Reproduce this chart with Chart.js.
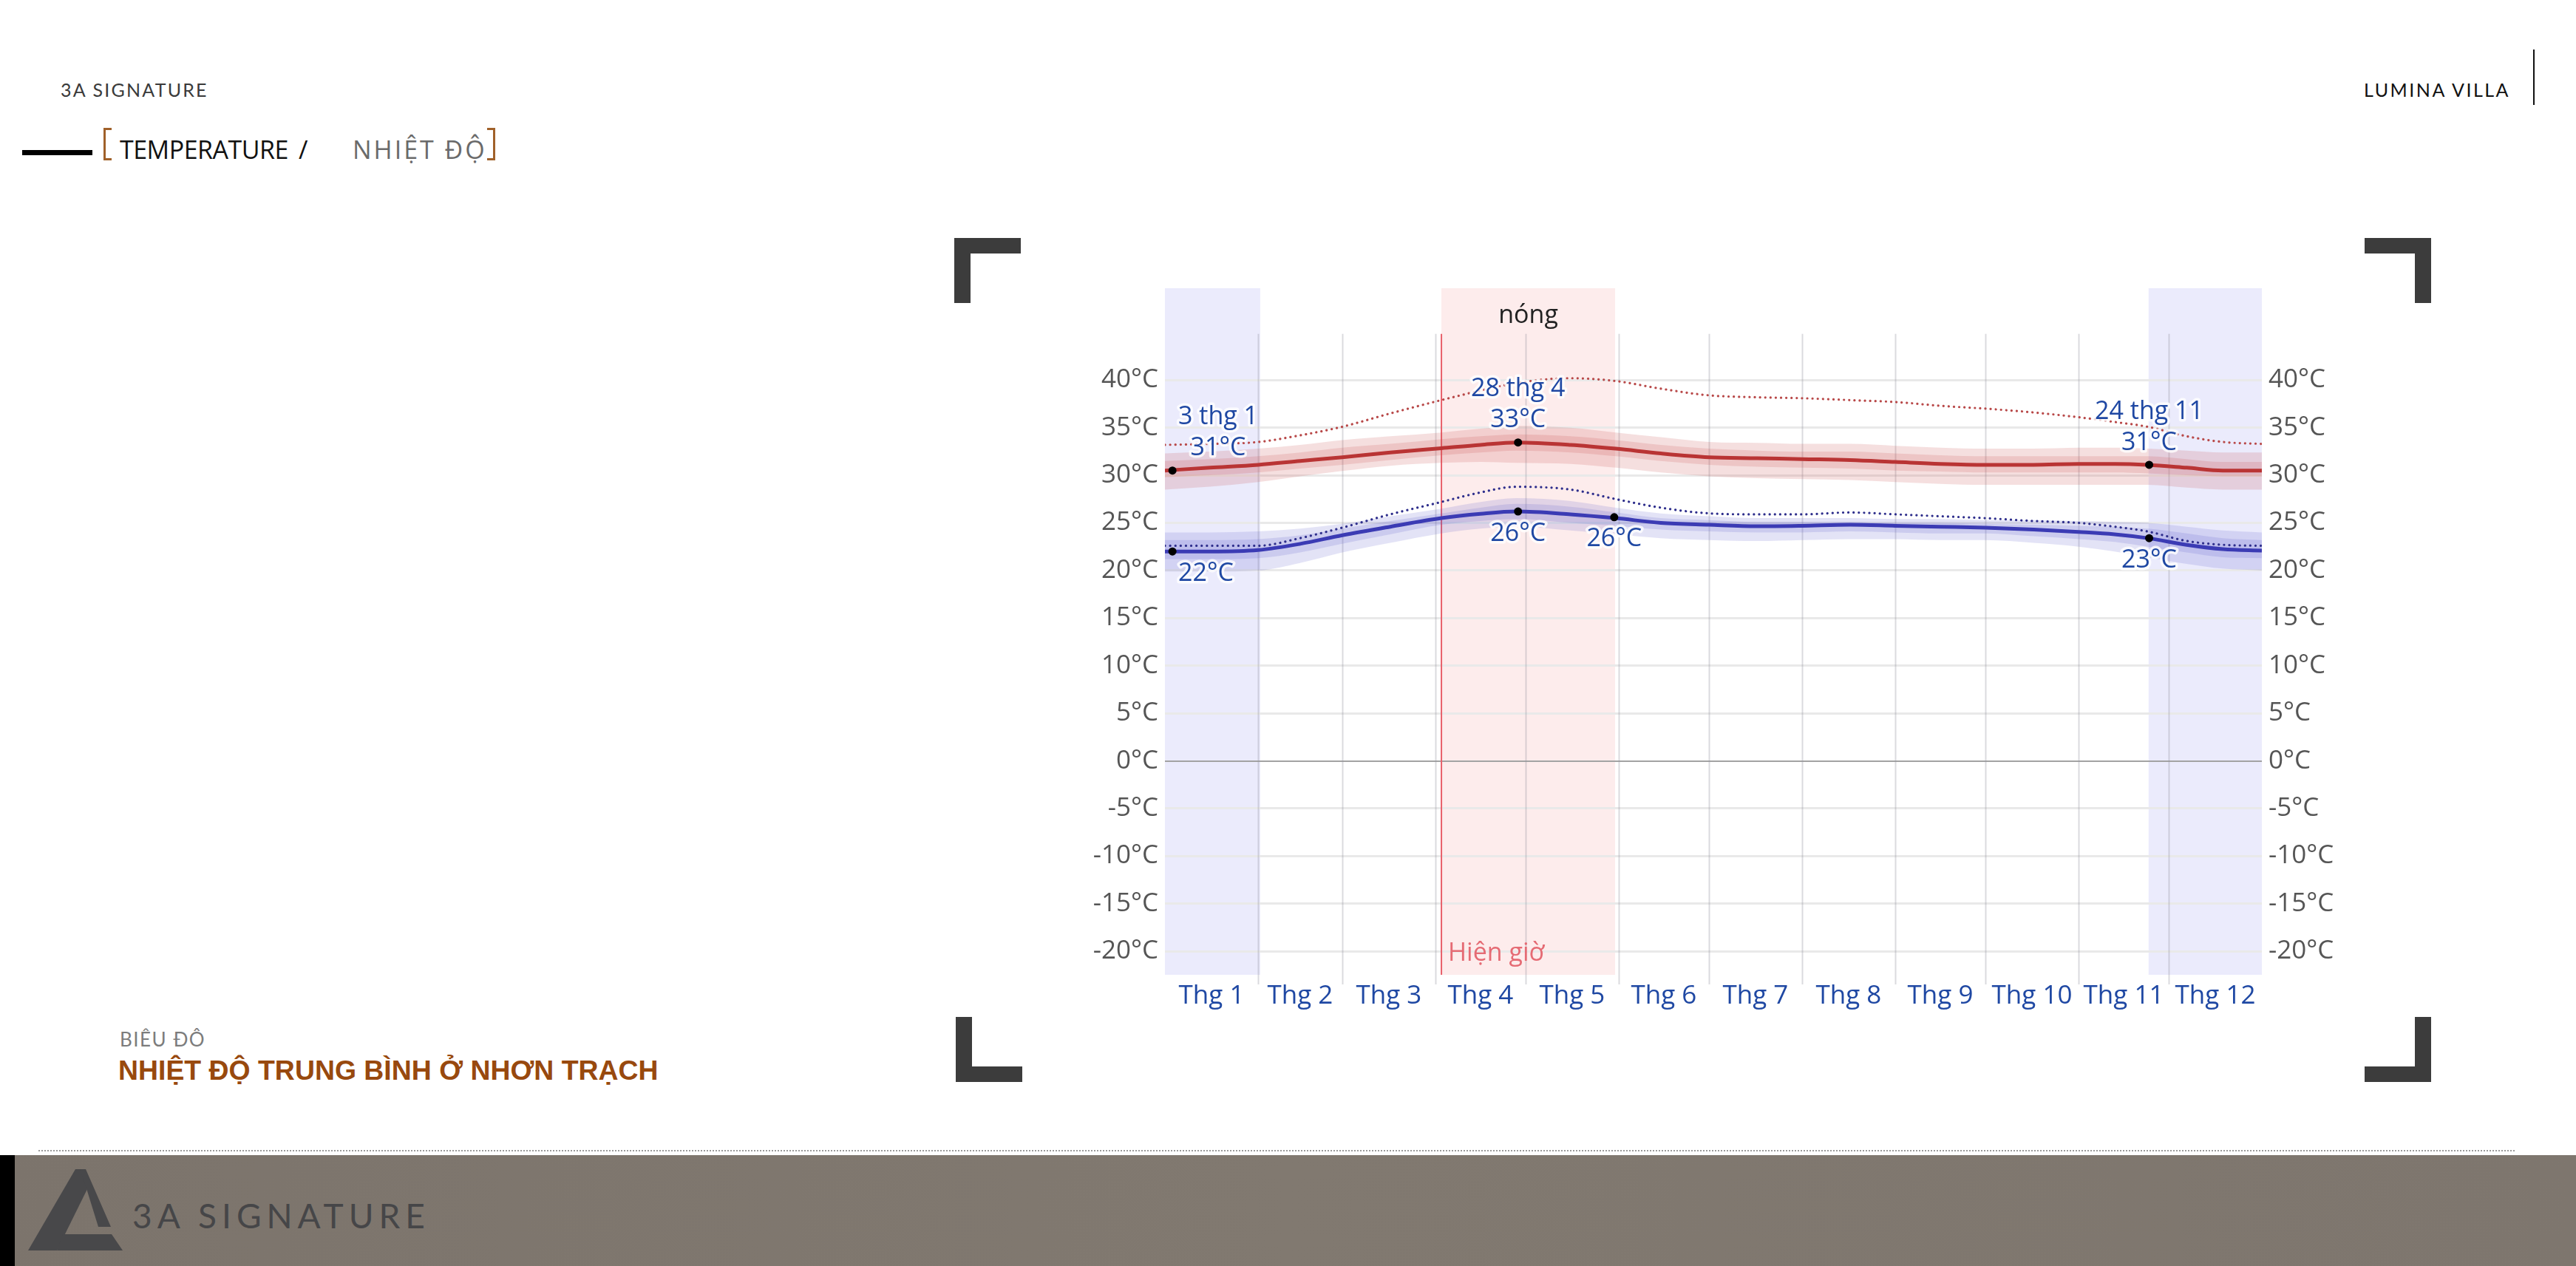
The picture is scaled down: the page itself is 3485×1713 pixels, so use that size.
<!DOCTYPE html>
<html lang="vi">
<head>
<meta charset="utf-8">
<title>Nhiệt độ trung bình ở Nhơn Trạch</title>
<script src="https://cdn.jsdelivr.net/npm/chart.js@4.4.1/dist/chart.umd.min.js"></script>
<style>
html, body { margin: 0; padding: 0; background: #fff; }
body { position: relative; width: 3485px; height: 1713px; overflow: hidden; }
.t { position: absolute; white-space: nowrap; line-height: 1; }
.box { position: absolute; }
#brand { left: 82px; top: 106px; font: 400 25px Lato, sans-serif; letter-spacing: 2.2px; color: #3a3a3a; }
#dash { left: 30px; top: 203px; width: 95px; height: 7px; background: #000; }
.br { top: 173px; width: 8px; height: 38px; border: 3px solid #a0612a; }
#brL { left: 140px; border-right: none; }
#brR { left: 659px; border-left: none; }
#tEn { left: 162px; top: 179px; font: 400 34px "Open Sans", sans-serif; color: #111; letter-spacing: -0.5px; }
#slash { left: 404px; top: 179px; font: 400 34px "Open Sans", sans-serif; color: #111; }
#tVi { left: 477px; top: 179px; font: 400 34px "Open Sans", sans-serif; color: #6a6a6a; letter-spacing: 3px; }
#lumina { left: 3198px; top: 106px; font: 400 25px Lato, sans-serif; letter-spacing: 2.5px; color: #111; }
#vbar { left: 3427px; top: 67px; width: 2px; height: 75px; background: #111; }
#sub { left: 162px; top: 1390px; font: 400 26px Lato, sans-serif; color: #7c7c7c; letter-spacing: 1.5px; }
#title { left: 160px; top: 1427px; font: 700 37.4px "Liberation Sans", Arial, sans-serif; color: #98490e; }
.cn { width: 68px; height: 67px; border: 0 solid #3c3c3c; }
#cTL { left: 1291px; top: 322px; border-left-width: 22px; border-top-width: 21px; }
#cTR { left: 3199px; top: 322px; border-right-width: 22px; border-top-width: 21px; }
#cBL { left: 1293px; top: 1376px; border-left-width: 22px; border-bottom-width: 21px; }
#cBR { left: 3199px; top: 1376px; border-right-width: 22px; border-bottom-width: 21px; }
#dots { left: 52px; top: 1556px; width: 3350px; height: 0; border-top: 2px dotted #9a9a9a; }
#foot { left: 0; top: 1563px; width: 3485px; height: 150px; background: linear-gradient(90deg, #7c746c 0%, #817970 50%, #7e766e 100%); }
#footBar { left: 0; top: 1563px; width: 20px; height: 150px; background: #000; }
#logo { left: 30px; top: 1575px; }
#footText { left: 179px; top: 1617px; font: 400 46px Lato, sans-serif; letter-spacing: 7px; color: #464648; }
#chartWrap { left: 1380px; top: 360px; width: 1820px; height: 1020px; }
</style>
</head>
<body>
<div class="t" id="brand">3A SIGNATURE</div>
<div class="box" id="dash"></div>
<div class="box br" id="brL"></div>
<div class="t" id="tEn">TEMPERATURE</div>
<div class="t" id="slash">/</div>
<div class="t" id="tVi">NHIỆT ĐỘ</div>
<div class="box br" id="brR"></div>
<div class="t" id="lumina">LUMINA VILLA</div>
<div class="box" id="vbar"></div>

<div class="box cn" id="cTL"></div>
<div class="box cn" id="cTR"></div>
<div class="box cn" id="cBL"></div>
<div class="box cn" id="cBR"></div>

<div class="box" id="chartWrap"><canvas id="tempChart" width="1820" height="1020"></canvas></div>

<div class="t" id="sub">BIÊU ĐÔ</div>
<div class="t" id="title">NHIỆT ĐỘ TRUNG BÌNH Ở NHƠN TRẠCH</div>

<div class="box" id="dots"></div>
<div class="box" id="foot"></div>
<div class="box" id="footBar"></div>
<svg class="box" id="logo" width="140" height="125" viewBox="0 0 140 125">
  <polygon points="72,7 82,7 90,30 47,117 8,117" fill="#48484a"/>
  <polygon points="78,7 86,7 120,85 103,85 86,30" fill="#48484a"/>
  <polygon points="55,95 121,95 136,117 47,117" fill="#48484a"/>
</svg>
<div class="t" id="footText">3A SIGNATURE</div>

<script>
// day of year (0 = 1 Jan) for every sampled point
const days = [0, 15, 31, 45, 59, 75, 92, 105, 117, 135, 150, 165, 181, 197, 212, 228, 243, 258, 273, 289, 304, 316, 327, 340, 352, 365];

// average daily high / low (°C)
const avgHigh = [30.5, 30.8, 31.1, 31.5, 31.9, 32.4, 32.85, 33.2, 33.45, 33.2, 32.8, 32.3, 31.9, 31.8, 31.7, 31.6, 31.4, 31.2, 31.1, 31.1, 31.2, 31.2, 31.1, 30.8, 30.5, 30.5];
const avgLow  = [22.0, 22.0, 22.15, 22.8, 23.7, 24.6, 25.5, 25.95, 26.2, 25.9, 25.5, 25.0, 24.8, 24.65, 24.7, 24.8, 24.7, 24.6, 24.5, 24.3, 24.05, 23.8, 23.4, 22.7, 22.25, 22.1];

// percentile bands of the high
const highP90 = [32.3, 32.5, 32.8, 33.2, 33.7, 34.1, 34.5, 34.9, 35.2, 35.0, 34.5, 34.0, 33.5, 33.4, 33.3, 33.3, 33.1, 32.9, 32.8, 32.8, 32.9, 32.9, 32.8, 32.6, 32.4, 32.4];
const highP75 = [31.5, 31.7, 32.0, 32.4, 32.9, 33.3, 33.8, 34.1, 34.3, 34.1, 33.7, 33.2, 32.8, 32.6, 32.5, 32.5, 32.3, 32.1, 32.0, 32.0, 32.0, 32.0, 32.0, 31.7, 31.4, 31.4];
const highP25 = [29.8, 30.0, 30.3, 30.7, 31.1, 31.6, 32.1, 32.4, 32.6, 32.4, 32.0, 31.5, 31.1, 30.9, 30.8, 30.7, 30.5, 30.4, 30.3, 30.3, 30.3, 30.3, 30.2, 30.0, 29.9, 29.9];
const highP10 = [28.5, 28.8, 29.3, 29.9, 30.45, 31.0, 31.3, 31.4, 31.3, 31.2, 30.8, 30.3, 29.9, 29.7, 29.6, 29.5, 29.3, 29.1, 29.0, 29.0, 29.0, 29.0, 29.0, 28.7, 28.5, 28.5];

// percentile bands of the low
const lowP90 = [24.0, 24.0, 24.1, 24.4, 24.9, 25.7, 26.5, 27.2, 27.6, 27.3, 26.6, 26.0, 25.7, 25.5, 25.5, 25.5, 25.4, 25.4, 25.3, 25.3, 25.2, 25.1, 25.0, 24.6, 24.2, 24.0];
const lowP75 = [23.2, 23.2, 23.3, 23.7, 24.4, 25.2, 26.0, 26.6, 27.0, 26.7, 26.1, 25.5, 25.3, 25.1, 25.1, 25.1, 25.0, 25.0, 24.9, 24.8, 24.7, 24.6, 24.4, 23.9, 23.4, 23.2];
const lowP25 = [21.2, 21.2, 21.3, 21.9, 22.8, 23.8, 24.8, 25.2, 25.4, 25.0, 24.7, 24.3, 24.1, 24.0, 24.0, 24.1, 24.0, 23.9, 23.9, 23.6, 23.3, 23.0, 22.5, 21.9, 21.4, 21.3];
const lowP10 = [19.9, 19.9, 20.0, 20.8, 21.9, 22.9, 23.9, 24.4, 24.6, 24.2, 23.8, 23.4, 23.2, 23.1, 23.2, 23.3, 23.3, 23.2, 23.2, 22.9, 22.5, 22.0, 21.4, 20.7, 20.2, 20.0];

// perceived (feels-like) high / low, dotted
const feelsHigh = [33.2, 33.3, 33.5, 34.2, 35.1, 36.5, 37.9, 38.9, 39.7, 40.2, 39.9, 39.1, 38.4, 38.2, 38.1, 37.9, 37.7, 37.3, 37.0, 36.6, 36.1, 35.6, 35.1, 34.1, 33.5, 33.3];
const feelsLow  = [22.6, 22.6, 22.6, 23.4, 24.5, 25.9, 27.2, 28.2, 28.8, 28.5, 27.5, 26.6, 26.0, 25.9, 25.9, 26.1, 25.9, 25.7, 25.5, 25.2, 25.0, 24.6, 24.1, 23.1, 22.7, 22.6];

// highlighted days and their labels
const markerDays  = [2.5, 117.5, 327.5, 2.5, 117.5, 149.5, 327.5];
const markerTemps = [30.5, 33.45, 31.1, 22.0, 26.2, 25.6, 23.4];
const markerText  = [['3 thg 1', '31°C'], ['28 thg 4', '33°C'], ['24 thg 11', '31°C'], ['22°C'], ['26°C'], ['26°C'], ['23°C']];
const markerAbove = [true, true, true, false, false, false, false];

// seasons and axes
const coolSeason = [[0, 31.7], [327.3, 365]];
const hotSeason = [92, 149.8];
const nowDay = 92;
const monthStarts = [0, 31, 59, 90, 120, 151, 181, 212, 243, 273, 304, 334, 365];
const monthLabels = ['Thg 1', 'Thg 2', 'Thg 3', 'Thg 4', 'Thg 5', 'Thg 6', 'Thg 7', 'Thg 8', 'Thg 9', 'Thg 10', 'Thg 11', 'Thg 12'];
const yTicks = [-20, -15, -10, -5, 0, 5, 10, 15, 20, 25, 30, 35, 40];

const BLUE_TEXT = '#1f48a3';
const FONT = '"Open Sans", "Noto Sans", sans-serif';

function pts(vals) {
    return days.map((d, i) => ({ x: d, y: vals[i] }));
}

const band = (vals, fillTo, color) => ({
    data: pts(vals), borderWidth: 0, pointRadius: 0,
    fill: fillTo === null ? false : fillTo, backgroundColor: color,
    cubicInterpolationMode: 'monotone', order: 5
});

const seasons = {
    id: 'seasons',
    beforeDraw(chart) {
        const { ctx, chartArea: a, scales: { x } } = chart;
        ctx.save();
        ctx.fillStyle = '#ebebfc';
        coolSeason.forEach(([s, e]) => {
            const x0 = x.getPixelForValue(s), x1 = x.getPixelForValue(e);
            ctx.fillRect(x0, a.top, x1 - x0, a.bottom - a.top);
        });
        ctx.fillStyle = '#fdecec';
        const h0 = x.getPixelForValue(hotSeason[0]), h1 = x.getPixelForValue(hotSeason[1]);
        ctx.fillRect(h0, a.top, h1 - h0, a.bottom - a.top);
        ctx.restore();
    },
    beforeDatasetsDraw(chart) {
        const { ctx, chartArea: a, scales: { x, y } } = chart;
        const top = y.getPixelForValue(44.86);
        ctx.save();
        ctx.strokeStyle = 'rgba(150,150,160,0.35)';
        ctx.lineWidth = 2;
        monthStarts.slice(1, -1).forEach(d => {
            const px = Math.round(x.getPixelForValue(d)) + 0.5;
            ctx.beginPath(); ctx.moveTo(px, top); ctx.lineTo(px, a.bottom + 13); ctx.stroke();
        });
        // "now" marker
        const nx = x.getPixelForValue(nowDay);
        ctx.strokeStyle = '#e8606a';
        ctx.beginPath(); ctx.moveTo(nx, top); ctx.lineTo(nx, a.bottom); ctx.stroke();
        ctx.restore();
    },
    afterDatasetsDraw(chart) {
        const { ctx, chartArea: a, scales: { x, y } } = chart;
        ctx.save();
        ctx.font = '34px ' + FONT;
        ctx.textAlign = 'center';
        ctx.textBaseline = 'middle';
        ctx.lineJoin = 'round';
        markerDays.forEach((d, i) => {
            const px = x.getPixelForValue(d), py = y.getPixelForValue(markerTemps[i]);
            const lines = markerText[i];
            const w = Math.max(...lines.map(t => ctx.measureText(t).width));
            const cx = Math.min(Math.max(px, a.left + 18 + w / 2), a.right - 18 - w / 2);
            lines.forEach((t, k) => {
                const ty = markerAbove[i] ? py - 30 - (lines.length - 1 - k) * 42 : py + 30 + k * 42;
                ctx.strokeStyle = 'rgba(255,255,255,0.8)';
                ctx.lineWidth = 7;
                ctx.strokeText(t, cx, ty);
                ctx.fillStyle = BLUE_TEXT;
                ctx.fillText(t, cx, ty);
            });
        });
        // season title
        ctx.fillStyle = '#222';
        ctx.fillText('nóng', (x.getPixelForValue(hotSeason[0]) + x.getPixelForValue(hotSeason[1])) / 2, a.top + 37);
        // now label
        ctx.textAlign = 'left';
        ctx.textBaseline = 'alphabetic';
        ctx.fillStyle = '#e56b74';
        ctx.fillText('Hiện giờ', x.getPixelForValue(nowDay) + 9, a.bottom - 19);
        ctx.restore();
    }
};

const yScale = (pos, width) => ({
    position: pos, min: -22.47, max: 49.65,
    afterBuildTicks: s => { s.ticks = yTicks.map(v => ({ value: v })); },
    afterFit: s => { s.width = width; },
    border: { display: false },
    grid: pos === 'left' ? {
        drawTicks: false,
        color: c => c.tick && c.tick.value === 0 ? '#a3a3a3' : '#e9e9e9',
        lineWidth: c => c.tick && c.tick.value === 0 ? 2 : 3
    } : { display: false, drawTicks: false },
    ticks: { padding: 9, color: '#555', font: { size: 35 }, callback: v => v + '°C' }
});

Chart.defaults.font.family = FONT;

new Chart(document.getElementById('tempChart'), {
    type: 'line',
    data: {
        datasets: [
            { data: markerDays.map((d, i) => ({ x: d, y: markerTemps[i] })), showLine: false,
              pointRadius: 5.5, pointBackgroundColor: '#000', pointBorderWidth: 0, order: 0 },
            { data: pts(avgHigh), borderColor: '#b93434', borderWidth: 5, pointRadius: 0,
              cubicInterpolationMode: 'monotone', order: 1 },
            { data: pts(avgLow), borderColor: '#3b3bb4', borderWidth: 5, pointRadius: 0,
              cubicInterpolationMode: 'monotone', order: 1 },
            { data: pts(feelsHigh), borderColor: '#b84848', borderWidth: 3.2, borderDash: [0.1, 7],
              borderCapStyle: 'round', pointRadius: 0, cubicInterpolationMode: 'monotone', order: 2 },
            { data: pts(feelsLow), borderColor: '#2e2e8c', borderWidth: 3.2, borderDash: [0.1, 7],
              borderCapStyle: 'round', pointRadius: 0, cubicInterpolationMode: 'monotone', order: 2 },
            band(highP90, null, 'transparent'),
            band(highP10, 5, 'rgba(200,80,80,0.18)'),
            band(highP75, null, 'transparent'),
            band(highP25, 7, 'rgba(200,80,80,0.18)'),
            band(lowP90, null, 'transparent'),
            band(lowP10, 9, 'rgba(80,80,200,0.16)'),
            band(lowP75, null, 'transparent'),
            band(lowP25, 11, 'rgba(80,80,200,0.16)')
        ]
    },
    options: {
        responsive: false,
        animation: false,
        devicePixelRatio: 1,
        layout: { padding: { top: 25, left: 0, right: 0, bottom: 0 } },
        plugins: { legend: { display: false }, tooltip: { enabled: false } },
        scales: {
            x: {
                type: 'linear', min: 0, max: 365,
                afterBuildTicks: s => {
                    s.ticks = monthLabels.map((_, i) => ({ value: (monthStarts[i] + monthStarts[i + 1]) / 2 }));
                },
                afterFit: s => { s.height = 61; },
                border: { display: false },
                grid: { display: false, drawTicks: false },
                ticks: {
                    autoSkip: false, maxRotation: 0, minRotation: 0, padding: 8,
                    color: BLUE_TEXT, font: { size: 35 },
                    callback: (v, i) => monthLabels[i]
                }
            },
            y: yScale('left', 196),
            y2: yScale('right', 140)
        }
    },
    plugins: [seasons]
});
</script>
</body>
</html>
